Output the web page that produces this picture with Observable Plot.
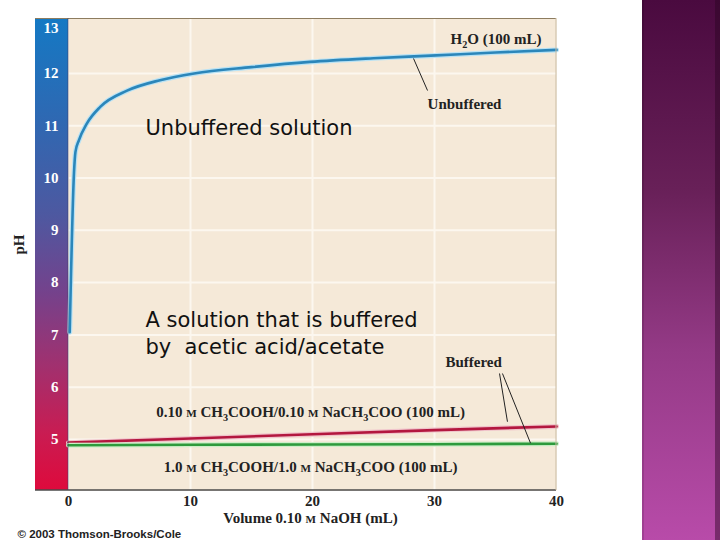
<!DOCTYPE html>
<html><head><meta charset="utf-8">
<script src="https://cdn.jsdelivr.net/npm/d3@7"></script>
<script src="https://cdn.jsdelivr.net/npm/@observablehq/plot@0.6"></script>
<style>
body{margin:0;background:#fff;}
#wrap{position:relative;width:720px;height:540px;overflow:hidden;background:#fff;}
</style></head><body><div id="wrap"></div>
<script>
// ---- data ----
const waterVolume = [0.1, 0.45, 0.57, 0.85, 1.5, 2.6, 4.8, 7.5, 10.3, 15, 19.8, 25, 29.7, 35, 40];
const waterPH     = [7.05, 10.1, 10.5, 10.72, 11.04, 11.36, 11.67, 11.87, 12.0, 12.12, 12.22, 12.29, 12.34, 12.4, 12.45];
const buffer010Volume = [0, 10, 20, 30, 40];
const buffer010PH     = [4.94, 5.02, 5.10, 5.18, 5.25];
const buffer10Volume  = [0, 10, 20, 30, 40];
const buffer10PH      = [4.89, 4.90, 4.905, 4.91, 4.92];
const xTicks = [0, 10, 20, 30, 40];
const yTicks = [5, 6, 7, 8, 9, 10, 11, 12];
const yTopTick = [13];
const yGrid  = [5, 6, 7, 8, 9, 10, 11, 12];
const xGrid  = [10, 20, 30];
const labelWater = "H₂O (100 mL)";
const labelBuf010 = "0.10 ᴍ CH₃COOH/0.10 ᴍ NaCH₃COO (100 mL)";
const labelBuf10 = "1.0 ᴍ CH₃COOH/1.0 ᴍ NaCH₃COO (100 mL)";
const xLabel = "Volume 0.10 ᴍ NaOH (mL)";
const yLabel = "pH";
const slideText1 = "Unbuffered solution";
const slideText2 = "A solution that is buffered\nby\u00a0\u00a0acetic acid/acetate";
const credit = "© 2003 Thomson-Brooks/Cole";

const water = waterVolume.map((v, i) => ({v, ph: waterPH[i]}));
const buf010 = buffer010Volume.map((v, i) => ({v, ph: buffer010PH[i]}));
const buf10 = buffer10Volume.map((v, i) => ({v, ph: buffer10PH[i]}));

const serif = "Liberation Serif, Times New Roman, serif";
const sans = "DejaVu Sans, Verdana, sans-serif";

const chart = Plot.plot({
  width: 720, height: 540,
  marginLeft: 68, marginRight: 164, marginTop: 18, marginBottom: 50,
  x: {domain: [0, 40]},
  y: {domain: [4.025, 13.05]},
  style: {background: "transparent", fontFamily: serif, overflow: "visible"},
  marks: [
    Plot.frame({fill: "#f5e9d8", stroke: null}),
    Plot.gridY(yGrid, {stroke: "#fcf7ef", strokeOpacity: 1, strokeWidth: 2}),
    Plot.gridX(xGrid, {stroke: "#fcf7ef", strokeOpacity: 1, strokeWidth: 2}),
    Plot.line(buf010, {x: "v", y: "ph", stroke: "#f0c4cb", strokeWidth: 5}),
    Plot.line(buf010, {x: "v", y: "ph", stroke: "#b3173f", strokeWidth: 2.6}),
    Plot.line(buf10, {x: "v", y: "ph", stroke: "#cdeec8", strokeWidth: 5}),
    Plot.line(buf10, {x: "v", y: "ph", stroke: "#2e9a3c", strokeWidth: 2.6}),
    Plot.line(water, {x: "v", y: "ph", stroke: "#b9e2f4", strokeWidth: 5, curve: "monotone-x"}),
    Plot.line(water, {x: "v", y: "ph", stroke: "#2b86ba", strokeWidth: 2.6, curve: "monotone-x"}),
    Plot.link([{x1: 28.28, y1: 12.285, x2: 29.43, y2: 11.673},
               {x1: 35.33, y1: 6.262, x2: 35.98, y2: 5.34},
               {x1: 35.57, y1: 6.262, x2: 37.87, y2: 4.93}],
      {x1: "x1", y1: "y1", x2: "x2", y2: "y2", stroke: "#222", strokeWidth: 1}),
    Plot.axisY(yTicks, {tickSize: 0, tickPadding: 10, tickFormat: "d", color: "white", fontWeight: "bold", fontSize: 15, label: null}),
    Plot.axisY(yTopTick, {tickSize: 0, tickPadding: 10, tickFormat: "d", dy: 7, color: "white", fontWeight: "bold", fontSize: 15, label: null}),
    Plot.axisX(xTicks, {tickSize: 0, tickPadding: 5, tickFormat: "d", color: "#222", fontWeight: "bold", fontSize: 15, label: null}),
    Plot.text([yLabel], {frameAnchor: "left", dx: -49, rotate: -90, fontWeight: "bold", fontSize: 15, fill: "#222"}),
    Plot.text([xLabel], {frameAnchor: "bottom", dx: -2, dy: 32, lineAnchor: "bottom", fontWeight: "bold", fontSize: 15, fill: "#222"}),
    Plot.text([labelWater], {x: 38.77, y: 12.566, textAnchor: "end", lineAnchor: "bottom", fontWeight: "bold", fontSize: 15, fill: "#222"}),
    Plot.text(["Unbuffered"], {x: 29.43, y: 11.324, textAnchor: "start", lineAnchor: "bottom", fontWeight: "bold", fontSize: 15, fill: "#222"}),
    Plot.text(["Buffered"], {x: 30.9, y: 6.383, textAnchor: "start", lineAnchor: "bottom", fontWeight: "bold", fontSize: 15, fill: "#222"}),
    Plot.text([labelBuf010], {x: 19.84, y: 5.427, textAnchor: "middle", lineAnchor: "bottom", fontWeight: "bold", fontSize: 15, fill: "#222"}),
    Plot.text([labelBuf10], {x: 19.84, y: 4.375, textAnchor: "middle", lineAnchor: "bottom", fontWeight: "bold", fontSize: 15, fill: "#222"}),
    Plot.text([slideText1], {x: 6.31, y: 10.83, textAnchor: "start", lineAnchor: "bottom", fontFamily: sans, fontSize: 21, fill: "#111"}),
    Plot.text([slideText2], {x: 6.31, y: 6.639, textAnchor: "start", lineAnchor: "bottom", lineHeight: 1.27, fontFamily: sans, fontSize: 21, fill: "#111"}),
    Plot.text([credit], {frameAnchor: "bottom-left", dx: -51, dy: 47, textAnchor: "start", lineAnchor: "bottom", fontFamily: "Liberation Sans, Arial, sans-serif", fontWeight: "bold", fontSize: 11.5, fill: "#222"})
  ]
});

chart.style.position = "absolute";
chart.style.left = "0px";
chart.style.top = "0px";
document.getElementById("wrap").appendChild(chart);

const svgSel = d3.select(chart);
const defs = svgSel.insert("defs", ":first-child");
const g1 = defs.append("linearGradient").attr("id", "phbar").attr("x1", 0).attr("y1", 0).attr("x2", 0).attr("y2", 1);
[[0, "#1479c4"], [0.22, "#2f68b2"], [0.42, "#4e58a0"], [0.58, "#74428c"], [0.74, "#a2306e"], [0.88, "#c91c52"], [1, "#de0a3c"]]
  .forEach(([o, c]) => g1.append("stop").attr("offset", o).attr("stop-color", c));
const g2 = defs.append("linearGradient").attr("id", "side").attr("x1", 0).attr("y1", 0).attr("x2", 0).attr("y2", 1);
[[0, "#4a0a3f"], [0.35, "#682058"], [0.65, "#943a86"], [1, "#b84ba9"]]
  .forEach(([o, c]) => g2.append("stop").attr("offset", o).attr("stop-color", c));

const deco = svgSel.insert("g", "defs + *");
deco.append("rect").attr("x", 35).attr("y", 18).attr("width", 33).attr("height", 472).attr("fill", "url(#phbar)");
deco.append("rect").attr("x", 642).attr("y", 0).attr("width", 78).attr("height", 540).attr("fill", "url(#side)");
deco.append("rect").attr("x", 715).attr("y", 0).attr("width", 5).attr("height", 540).attr("fill", "#2a0522").attr("opacity", 0.45);
deco.append("rect").attr("x", 642).attr("y", 0).attr("width", 2).attr("height", 540).attr("fill", "#000").attr("opacity", 0.12);

const border = svgSel.append("g");
border.append("line").attr("x1", 35).attr("x2", 556).attr("y1", 18.5).attr("y2", 18.5).attr("stroke", "#8d7c5f").attr("stroke-width", 1.2);
border.append("line").attr("x1", 35).attr("x2", 556).attr("y1", 490).attr("y2", 490).attr("stroke", "#4b4b4b").attr("stroke-width", 1.3);
border.append("line").attr("x1", 556).attr("x2", 556).attr("y1", 18).attr("y2", 490).attr("stroke", "#c9bba3").attr("stroke-width", 1);
border.append("line").attr("x1", 68).attr("x2", 68).attr("y1", 18).attr("y2", 490).attr("stroke", "#3d3f6a").attr("stroke-width", 1).attr("opacity", 0.6);

// rich text: small-cap M and subscripts
svgSel.selectAll("text").each(function() {
  const el = this;
  if (el.querySelector("tspan")) return;
  const s = el.textContent;
  if (!/[ᴍ₂₃]/.test(s)) return;
  const fs = parseFloat(getComputedStyle(el).fontSize) || 14;
  el.textContent = "";
  const runs = [];
  for (const ch of s) {
    const type = ch === "ᴍ" ? "small" : (ch === "₂" || ch === "₃") ? "sub" : "normal";
    const c = ch === "ᴍ" ? "M" : ch === "₂" ? "2" : ch === "₃" ? "3" : ch;
    if (runs.length && runs[runs.length - 1].type === type) runs[runs.length - 1].str += c;
    else runs.push({type, str: c});
  }
  let shifted = false;
  const shift = fs * 0.25;
  for (const r of runs) {
    const t = document.createElementNS("http://www.w3.org/2000/svg", "tspan");
    t.textContent = r.str;
    if (r.type === "sub") {
      t.setAttribute("font-size", fs * 0.68);
      t.setAttribute("dy", shift);
      shifted = true;
    } else {
      if (r.type === "small") t.setAttribute("font-size", fs * 0.74);
      if (shifted) { t.setAttribute("dy", -shift); shifted = false; }
    }
    el.appendChild(t);
  }
});
</script></body></html>
